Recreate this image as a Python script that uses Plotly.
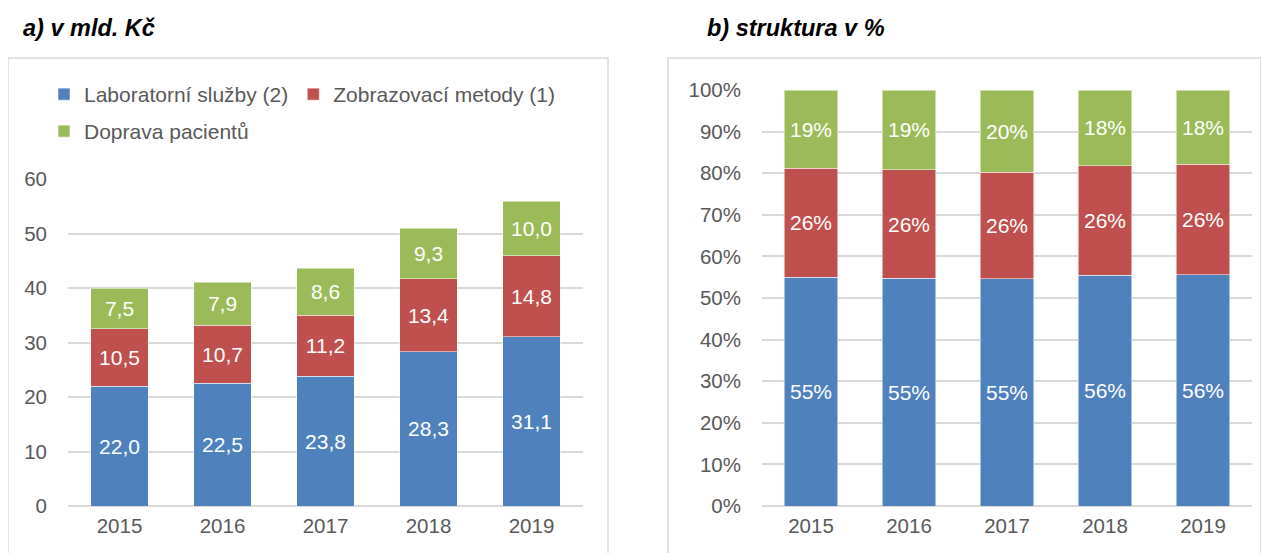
import plotly.graph_objects as go

# data
years = ['2015', '2016', '2017', '2018', '2019']
lab = [22.0, 22.5, 23.8, 28.3, 31.1]          # Laboratorní služby (2)
zobr = [10.5, 10.7, 11.2, 13.4, 14.8]         # Zobrazovací metody (1)
doprava = [7.5, 7.9, 8.6, 9.3, 10.0]          # Doprava pacientů
lab_pct = ['55%', '55%', '55%', '56%', '56%']
zobr_pct = ['26%', '26%', '26%', '26%', '26%']
doprava_pct = ['19%', '19%', '20%', '18%', '18%']

series_names = ['Laboratorní služby (2)', 'Zobrazovací metody (1)', 'Doprava pacientů']
COLORS = ['#4F81BD', '#C0504D', '#9BBB59']

W, H = 1269, 553
OFF = 8  # page body margin, compensate so positions match the screenshot
FONT = 'Liberation Sans, Arial, sans-serif'
GRID = '#D9D9D9'
TXT = '#595959'


def px_x(v):
    return (v - OFF) / W


def px_y(v):
    return 1 - (v - OFF) / H


# yearly totals, used to turn the values into shares for panel b)
totals = [a + b + c for a, b, c in zip(lab, zobr, doprava)]

fig = go.Figure()

# a) absolute values
for name, vals, col, leg in zip(series_names, [lab, zobr, doprava], COLORS,
                                ['legend', 'legend', 'legend2']):
    fig.add_trace(go.Bar(
        x=years, y=vals, name=name, marker_color=col,
        marker_line=dict(color='white', width=0.5),
        width=0.56, xaxis='x', yaxis='y', legend=leg,
        texttemplate='%{y:.1f}', textposition='inside', insidetextanchor='middle',
        textangle=0, textfont=dict(color='white', size=21, family=FONT),
    ))

# b) structure in %
for name, vals, pct, col in zip(series_names, [lab, zobr, doprava],
                                [lab_pct, zobr_pct, doprava_pct], COLORS):
    share = [v / t * 100 for v, t in zip(vals, totals)]
    fig.add_trace(go.Bar(
        x=years, y=share, name=name, marker_color=col,
        marker_line=dict(color='white', width=0.5),
        width=0.55, xaxis='x2', yaxis='y2', showlegend=False,
        text=pct, textposition='inside', insidetextanchor='middle',
        textangle=0, textfont=dict(color='white', size=21, family=FONT),
    ))

axis_common = dict(showgrid=False, showline=False, ticks='', automargin=False,
                   tickfont=dict(size=20.5, color=TXT, family=FONT))
yaxis_common = dict(showgrid=True, gridcolor=GRID, gridwidth=2, zeroline=True, zerolinecolor=GRID,
                    zerolinewidth=2, showline=False, ticks='', automargin=False,
                    tickfont=dict(size=20.5, color=TXT, family=FONT), ticklabelstandoff=20)

fig.update_layout(
    width=W, height=H,
    margin=dict(l=0, r=0, t=0, b=0, autoexpand=False),
    paper_bgcolor='white', plot_bgcolor='white',
    barmode='stack',
    separators=', ',
    font=dict(family=FONT, color=TXT),
    xaxis=dict(domain=[px_x(68), px_x(583)], anchor='y', ticklabelstandoff=5, **axis_common),
    yaxis=dict(domain=[px_y(506), px_y(179)], anchor='x', range=[0, 60], dtick=10, **yaxis_common),
    xaxis2=dict(domain=[px_x(762), px_x(1252)], anchor='y2', ticklabelstandoff=5, **axis_common),
    yaxis2=dict(domain=[px_y(506), px_y(90)], anchor='x2', range=[0, 100], dtick=10,
                ticksuffix='%', **yaxis_common),
    legend=dict(orientation='h', x=px_x(44), xanchor='left', y=px_y(74), yanchor='top',
                font=dict(size=21, color=TXT, family=FONT), itemwidth=30,
                traceorder='normal', bgcolor='rgba(0,0,0,0)'),
    legend2=dict(orientation='h', x=px_x(44), xanchor='left', y=px_y(111), yanchor='top',
                 font=dict(size=21, color=TXT, family=FONT), itemwidth=30,
                 bgcolor='rgba(0,0,0,0)'),
    showlegend=True,
    shapes=[
        dict(type='rect', xref='paper', yref='paper', x0=px_x(8), x1=px_x(608), y0=-0.05, y1=px_y(58),
             line=dict(color=GRID, width=1.5), fillcolor='rgba(0,0,0,0)', layer='below'),
        dict(type='rect', xref='paper', yref='paper', x0=px_x(668), x1=px_x(1261), y0=-0.05, y1=px_y(58),
             line=dict(color=GRID, width=1.5), fillcolor='rgba(0,0,0,0)', layer='below'),
    ],
    annotations=[
        dict(text='<b><i>a) v mld. Kč</i></b>', xref='paper', yref='paper', x=px_x(21), y=px_y(28),
             xanchor='left', yanchor='middle', showarrow=False, font=dict(size=23.5, color='black', family=FONT)),
        dict(text='<b><i>b) struktura v %</i></b>', xref='paper', yref='paper', x=px_x(705), y=px_y(28),
             xanchor='left', yanchor='middle', showarrow=False, font=dict(size=23.5, color='black', family=FONT)),
    ],
)

fig.write_html('out.html')
